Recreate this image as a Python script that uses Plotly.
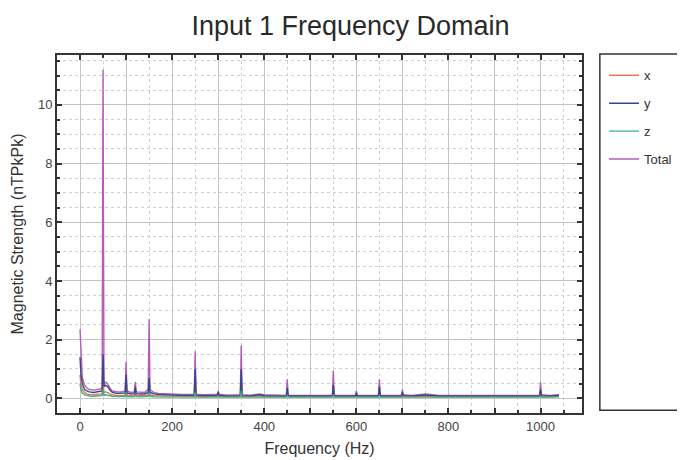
import plotly.graph_objects as go

freq = [0, 2, 5, 10, 15, 20, 30, 40, 48, 50, 52, 55, 60, 65, 70, 80, 90, 98, 100, 102,
        110, 118, 120, 122, 130, 140, 148, 150, 152, 160, 170, 180, 200, 220, 240, 248,
        250, 252, 270, 290, 298, 300, 302, 320, 340, 348, 350, 352, 370, 390, 400, 420,
        440, 448, 450, 452, 470, 500, 520, 548, 550, 552, 570, 598, 600, 602, 620, 648,
        650, 652, 670, 698, 700, 702, 720, 750, 780, 800, 850, 900, 950, 998, 1000, 1002,
        1020, 1040]

total = [2.35, 1.4, 0.7, 0.45, 0.35, 0.3, 0.28, 0.3, 0.35, 11.2, 0.5, 0.55, 0.5, 0.35, 0.25, 0.22, 0.22, 0.25, 1.25, 0.25,
         0.2, 0.22, 0.55, 0.22, 0.2, 0.2, 0.3, 2.7, 0.3, 0.2, 0.17, 0.16, 0.14, 0.13, 0.13, 0.14,
         1.6, 0.14, 0.12, 0.12, 0.14, 0.25, 0.14, 0.11, 0.11, 0.12, 1.8, 0.12, 0.11, 0.15, 0.12, 0.11,
         0.1, 0.1, 0.65, 0.1, 0.1, 0.1, 0.1, 0.1, 0.95, 0.1, 0.1, 0.1, 0.25, 0.1, 0.1, 0.1,
         0.65, 0.1, 0.1, 0.1, 0.3, 0.12, 0.1, 0.15, 0.1, 0.1, 0.12, 0.1, 0.1, 0.1, 0.55, 0.12,
         0.1, 0.12]

y_vals = [1.4, 0.8, 0.5, 0.3, 0.25, 0.22, 0.2, 0.22, 0.25, 1.5, 0.4, 0.45, 0.4, 0.28, 0.2, 0.17, 0.17, 0.18, 0.8, 0.18,
          0.15, 0.16, 0.4, 0.16, 0.15, 0.15, 0.2, 0.7, 0.2, 0.15, 0.13, 0.12, 0.1, 0.1, 0.1, 0.1,
          1.0, 0.1, 0.09, 0.09, 0.1, 0.2, 0.1, 0.08, 0.08, 0.09, 1.0, 0.09, 0.08, 0.12, 0.09, 0.08,
          0.08, 0.08, 0.35, 0.08, 0.08, 0.08, 0.08, 0.08, 0.45, 0.08, 0.08, 0.08, 0.18, 0.08, 0.08, 0.08,
          0.4, 0.08, 0.08, 0.08, 0.2, 0.09, 0.08, 0.11, 0.08, 0.08, 0.09, 0.08, 0.08, 0.08, 0.3, 0.09,
          0.08, 0.1]

x_vals = [0.8, 0.5, 0.3, 0.2, 0.15, 0.13, 0.12, 0.13, 0.15, 0.6, 0.2, 0.22, 0.2, 0.15, 0.12, 0.1, 0.1, 0.1, 0.4, 0.1,
          0.09, 0.1, 0.2, 0.1, 0.09, 0.09, 0.12, 0.3, 0.12, 0.09, 0.08, 0.08, 0.07, 0.07, 0.07, 0.07,
          0.4, 0.07, 0.06, 0.06, 0.07, 0.12, 0.07, 0.06, 0.06, 0.06, 0.5, 0.06, 0.06, 0.08, 0.06, 0.06,
          0.06, 0.06, 0.2, 0.06, 0.06, 0.06, 0.06, 0.06, 0.25, 0.06, 0.06, 0.06, 0.1, 0.06, 0.06, 0.06,
          0.2, 0.06, 0.06, 0.06, 0.1, 0.06, 0.06, 0.07, 0.06, 0.06, 0.06, 0.06, 0.06, 0.06, 0.15, 0.06,
          0.06, 0.07]

z_vals = [0.5, 0.3, 0.18, 0.12, 0.1, 0.08, 0.07, 0.08, 0.09, 0.3, 0.1, 0.12, 0.1, 0.08, 0.07, 0.06, 0.06, 0.06, 0.2, 0.06,
          0.05, 0.06, 0.1, 0.06, 0.05, 0.05, 0.07, 0.2, 0.07, 0.05, 0.05, 0.05, 0.04, 0.04, 0.04, 0.04,
          0.2, 0.04, 0.04, 0.04, 0.04, 0.08, 0.04, 0.04, 0.04, 0.04, 0.25, 0.04, 0.04, 0.05, 0.04, 0.04,
          0.04, 0.04, 0.1, 0.04, 0.04, 0.04, 0.04, 0.04, 0.12, 0.04, 0.04, 0.04, 0.06, 0.04, 0.04, 0.04,
          0.1, 0.04, 0.04, 0.04, 0.06, 0.04, 0.04, 0.05, 0.04, 0.04, 0.04, 0.04, 0.04, 0.04, 0.08, 0.04,
          0.04, 0.05]

x_tick_vals = [0, 100, 200, 300, 400, 500, 600, 700, 800, 900, 1000]
x_tick_text = ["0", "", "200", "", "400", "", "600", "", "800", "", "1000"]
y_tick_vals = [0, 2, 4, 6, 8, 10]

series_names = ["x", "y", "z", "Total"]
series_colors = {"x": "#E07A55", "y": "#39468C", "z": "#3FAE7E", "Total": "#B45DB8"}
series_data = {"x": x_vals, "y": y_vals, "z": z_vals, "Total": total}

FONT = "Liberation Sans, Arial, sans-serif"

fig = go.Figure()
draw_order = ["Total", "x", "y", "z"]
rank = {n: i for i, n in enumerate(series_names)}
for name in draw_order:
    fig.add_trace(go.Scatter(
        x=freq, y=series_data[name], mode="lines", name=name,
        legendgroup=name,
        line=dict(color=series_colors[name], width=1.4),
        legendrank=rank[name] + 1,
    ))

grid_major = "#c4c4c4"
grid_minor = "#d0d0d0"
axis_common = dict(
    showline=True, linecolor="#333333", linewidth=2, mirror="ticks",
    ticks="inside", ticklen=5, tickwidth=2, tickcolor="#333333",
    showgrid=True, gridcolor=grid_major, gridwidth=1,
    zeroline=False, automargin=False,
    tickfont=dict(family=FONT, size=13, color="#444444"),
)

fig.update_xaxes(
    range=[-50, 1090], tickvals=x_tick_vals, ticktext=x_tick_text,
    minor=dict(dtick=50, tick0=0, ticks="inside", ticklen=3, tickcolor="#333333",
               showgrid=True, gridcolor=grid_minor, griddash="dot", gridwidth=1),
    title=dict(text="Frequency (Hz)", standoff=10,
               font=dict(family=FONT, size=16, color="#333333")),
    **axis_common,
)
fig.update_yaxes(
    range=[-0.5, 11.7], tickvals=y_tick_vals,
    minor=dict(dtick=0.5, tick0=0, ticks="inside", ticklen=3, tickcolor="#333333",
               showgrid=True, gridcolor=grid_minor, griddash="dot", gridwidth=1),
    title=dict(text="Magnetic Strength (nTPkPk)", standoff=10,
               font=dict(family=FONT, size=16, color="#333333")),
    **axis_common,
)

fig.update_layout(
    width=685, height=460,
    margin=dict(l=49, r=111, t=47, b=55),
    paper_bgcolor="white", plot_bgcolor="white",
    title=dict(text="Input 1 Frequency Domain", x=0.5, xanchor="center", y=0.962, yanchor="middle",
               font=dict(family=FONT, size=27, color="#2a2a2a")),
    showlegend=True,
    legend=dict(x=1.042, y=0.985, xanchor="left", yanchor="top",
                bgcolor="rgba(0,0,0,0)", borderwidth=0,
                font=dict(family=FONT, size=13, color="#333333"),
                tracegroupgap=8, itemwidth=30),
    shapes=[dict(type="rect", xref="paper", yref="paper", x0=1.034, x1=1.187, y0=0.008, y1=1.003,
                 line=dict(color="#333333", width=1.5), fillcolor="rgba(0,0,0,0)")],
)

fig.write_html("out.html")
